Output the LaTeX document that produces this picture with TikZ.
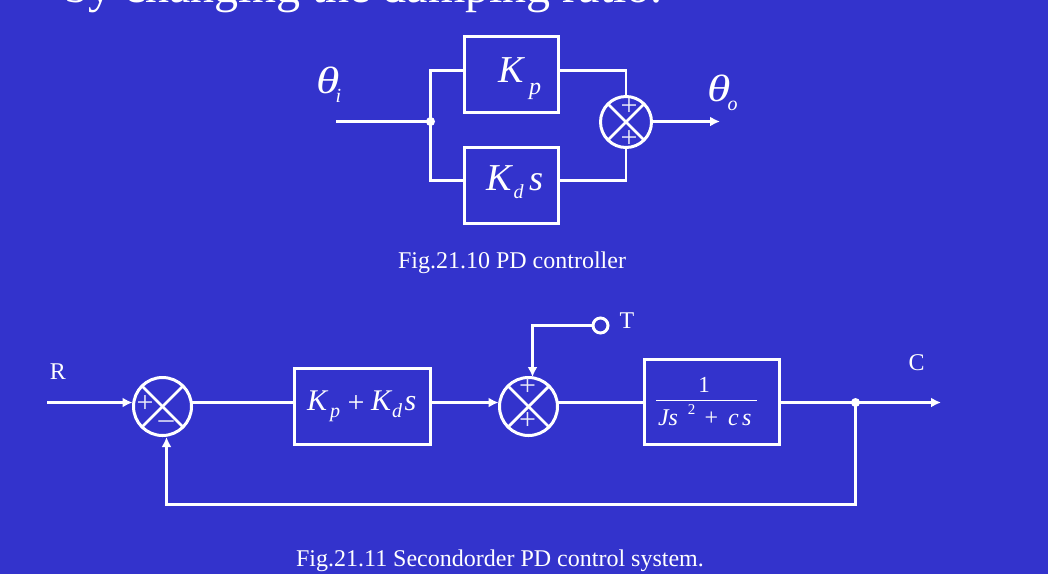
\documentclass[tikz,border=0pt]{standalone}
\usepackage{fontspec}
\usepackage{graphicx}
\setmainfont{Liberation Serif}
\usetikzlibrary{arrows.meta}
\definecolor{bgblue}{HTML}{3333CC}
\newcommand{\fs}[1]{\fontsize{#1}{#1}\selectfont}
\newcommand{\widetheta}{\scalebox{1.25}[1]{θ}}
\tikzset{
  x=1pt,y=-1pt,
  wire/.style={draw=white,line width=2.8pt,line join=miter},
  arrowwire/.style={wire,-{Latex[length=10pt,width=10pt]}},
  crossline/.style={wire,shorten <=-1pt,shorten >=-1pt},
  blockbox/.style={draw=white,line width=3pt,rectangle,inner sep=0pt,outer sep=0pt},
  sumcircle/.style={draw=white,line width=3pt,circle,inner sep=0pt,outer sep=0pt,minimum size=#1},
  dotnode/.style={circle,fill=white,inner sep=0pt,minimum size=9pt},
  label/.style={text=white,inner sep=0pt,outer sep=0pt},
  sign/.style={text=white!90!bgblue,inner sep=0pt,font=\fs{30}},
}
\begin{document}
\begin{tikzpicture}
\fill[bgblue] (0,0) rectangle (1048,574);
\useasboundingbox (0,0) rectangle (1048,574);
\clip (0,0) rectangle (1048,574);

\node[label,anchor=base,font=\fs{48}] (head) at (363.5,2.5) {by changing the damping ratio.};

% ---- PD controller
\node[blockbox,minimum width=94pt,minimum height=76pt] (kp) at (511.5,74.5) {};
\node[blockbox,minimum width=94pt,minimum height=76pt] (kd) at (511.5,185.5) {};
\node[sumcircle=51pt] (s0) at (626,122) {};
\node[dotnode] (j0) at (430.5,121.5) {};
\coordinate (tin) at (336,121.5);
\coordinate (kpw) at (464,70.5);
\coordinate (kpe) at (559,70.5);
\coordinate (kdw) at (464,180.5);
\coordinate (kde) at (559,180.5);
\coordinate (sout) at (651,121.5);
\coordinate (tout) at (720,121.5);
\draw[wire] (tin) -- (j0.center);
\draw[wire] (j0.center) |- (kpw);
\draw[wire] (j0.center) |- (kdw);
\draw[wire] (kpe) -| (s0.north);
\draw[wire] (kde) -| (s0.south);
\draw[arrowwire] (sout) -- (tout);
\draw[crossline] (s0.45) -- (s0.225);
\draw[crossline] (s0.135) -- (s0.315);
\node[sign] (s0a) at (629,107) {+};
\node[sign] (s0b) at (629,139) {+};

\node[label,anchor=base,font=\fs{38}\itshape] (ti) at (328,93) {\widetheta};
\node[label,anchor=base,font=\fs{20}\itshape] (tis) at (338.5,102) {i};
\node[label,anchor=base,font=\fs{38}\itshape] (to) at (719.5,101) {\widetheta};
\node[label,anchor=base,font=\fs{20}\itshape] (tos) at (732.5,110) {o};
\node[label,anchor=base,font=\fs{38}\itshape] (kpa) at (511,82) {K};
\node[label,anchor=base,font=\fs{24}\itshape] (kpb) at (535,94) {p};
\node[label,anchor=base,font=\fs{38}\itshape] (kda) at (499,190) {K};
\node[label,anchor=base,font=\fs{20}\itshape] (kdb) at (518.5,198) {d};
\node[label,anchor=base,font=\fs{36}\itshape] (kdc) at (536,190) {s};
\node[label,anchor=base,font=\fs{24}] (cap1) at (512,268) {Fig.21.10 PD controller};

% ---- second-order system
\node[sumcircle=58pt] (s1) at (162.5,406.5) {};
\node[sumcircle=58pt] (s2) at (528.5,406.5) {};
\node[blockbox,minimum width=136pt,minimum height=76pt] (pd) at (362,406.5) {};
\node[blockbox,minimum width=135pt,minimum height=85pt] (plant) at (711.5,402) {};
\node[dotnode] (j1) at (855.5,402.5) {};
\node[circle,draw=white,line width=3pt,inner sep=0pt,minimum size=15pt] (tc) at (600.5,325.5) {};
\coordinate (rin) at (47,402.5);
\coordinate (rend) at (132.5,402.5);
\coordinate (s1o) at (191.5,402.5);
\coordinate (pdw) at (294,402.5);
\coordinate (pde) at (431,402.5);
\coordinate (s2i) at (498.5,402.5);
\coordinate (s2o) at (558,402.5);
\coordinate (plw) at (644,402.5);
\coordinate (ple) at (779,402.5);
\coordinate (cout) at (941,402.5);
\coordinate (tbend) at (532.5,325.5);
\coordinate (s2t) at (532.5,377);
\coordinate (fb1) at (855.5,504.5);
\coordinate (fb2) at (166.5,504.5);
\coordinate (s1b) at (166.5,437);
\draw[arrowwire] (rin) -- (rend);
\draw[wire] (s1o) -- (pdw);
\draw[arrowwire] (pde) -- (s2i);
\draw[wire] (s2o) -- (plw);
\draw[wire] (ple) -- (j1.center);
\draw[arrowwire] (j1.center) -- (cout);
\draw[arrowwire] (tc.west) -- (tbend) -- (s2t);
\draw[arrowwire] (j1.center) -- (fb1) -- (fb2) -- (s1b);
\draw[crossline] (s1.45) -- (s1.225);
\draw[crossline] (s1.135) -- (s1.315);
\draw[crossline] (s2.45) -- (s2.225);
\draw[crossline] (s2.135) -- (s2.315);
\node[sign] (s1a) at (145,404) {+};
\node[sign] (s1m) at (166,425) {–};
\node[sign] (s2a) at (527.5,387) {+};
\node[sign] (s2b) at (527.5,421) {+};

\node[label,anchor=base,font=\fs{24}] (r) at (58,379) {R};
\node[label,anchor=base,font=\fs{24}] (t) at (627,328) {T};
\node[label,anchor=base,font=\fs{24}] (c) at (916.5,370) {C};
\node[label,anchor=base west,font=\fs{30}\itshape] (pa) at (307,410) {K};
\node[label,anchor=base,font=\fs{20}\itshape] (pb) at (335,417) {p};
\node[label,anchor=base,font=\fs{30}] (pc) at (356,412) {+};
\node[label,anchor=base west,font=\fs{30}\itshape] (pd1) at (371,410) {K};
\node[label,anchor=base,font=\fs{20}\itshape] (pd2) at (397,417) {d};
\node[label,anchor=base west,font=\fs{30}\itshape] (pd3) at (404.5,410) {s};
\node[label,anchor=base,font=\fs{23}] (one) at (704,392) {1};
\draw[draw=white,line width=1.2pt] (656,400.5) -- (757,400.5);
\node[label,anchor=base west,font=\fs{24}\itshape] (den) at (658,425) {Js};
\node[label,anchor=base,font=\fs{15}] (den2) at (691.5,414) {2};
\node[label,anchor=base,font=\fs{24}] (den3) at (711.5,425) {+};
\node[label,anchor=base west,font=\fs{24}\itshape] (den4) at (728,425) {c};
\node[label,anchor=base west,font=\fs{24}\itshape] (den5) at (742,425) {s};
\node[label,anchor=base,font=\fs{24}] (cap2) at (500,566) {Fig.21.11 Secondorder PD control system.};
\end{tikzpicture}
\end{document}
